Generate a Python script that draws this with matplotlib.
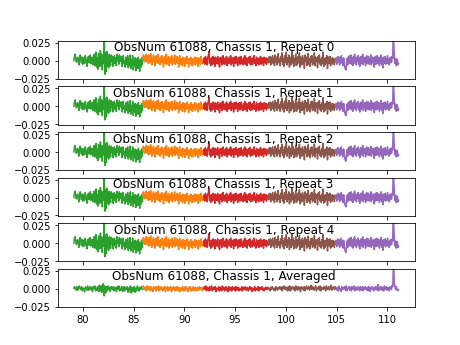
import numpy as np
import matplotlib
matplotlib.use("Agg")
import matplotlib.pyplot as plt

obsnum = 61088
chassis = 1
n_repeats = 5

# frequency ranges of the five subbands
band_edges = [(79.1, 85.9), (85.9, 91.9), (91.9, 98.2), (98.2, 104.9), (104.9, 111.1)]
band_colors = ["tab:green", "tab:orange", "tab:red", "tab:brown", "tab:purple"]

# single repeat residuals (units of 1e-3)
rep_green = [0, 6, 9, 3, -2, 2, 5, -1, -6, 4, 8, 2, -3, 5, -5, 1, 4, -4, 7, 3, -2, -8, 3, 6, -3, 2, 8, -4, -2, 5,
             -6, 3, 9, -7, 6, 12, -9, 4, -12, 10, 2, -8, 14, -6, 9, -13, 7, -4, 33, -19, 11, -15, 13, -8, 6, -10, 9, 4, -7, 8,
             -1, 6, -8, 2, 7, -4, 4, -7, 9, 0, 5, -5, 8, -1, 2, 6, -8, 3, 7, -4, 0, -9, 5, 3, -6, 7, -10, 2, -7, 8,
             -11, 1, -5, 7, -13, 2, -8, 4, -14, -3, 3, -11, 5, -4, -15, 1, -9, 4, -6, 0]
rep_orange = [4, 8, 0, 6, -2, 3, 9, -1, 7, 2, -4, 8, 3, -3, 10, 2, -6, 4, -1, 8, -2, 5, -7, 3, 7, -3, 1, 9, -4, 4,
              1, -6, 5, -3, 7, -2, 3, -9, 2, 6, -4, 1, 9, -5, 2, -3, 6, -7, 3, -1, 5, -4, 7, -6, 1, 3, -3, 8, -5, 2,
              -2, 6, -4, 4, -9, 2, 7, -2, -5, 3, 0, -7, 5, -3, 3, -8, 4, -1, -4, 6, -3, 1, -9, 3, 0, -4, 5, -6, 1, -7,
              3, -1, -3, 5, -6, 0, 4, -4, 2, -8, 4, -2, 3, -5, 6, -3, 1, -4, 2, -1]
rep_red = [-3, 4, -5, 6, -2, 3, -6, 5, 7, 13, -4, 3, -7, 4, 1, -5, 6, -3, 4, -8, 5, 0, -4, 3, 6, -5, 2, -9, 4, -2,
           5, -6, 3, 7, -4, 2, -5, 4, -3, 6, -7, 3, 0, -4, 5, -2, 7, -6, 3, -3, 4, -8, 5, 1, -4, 6, -3, 3, -7, 4,
           -2, 5, -5, 3, 6, -4, 1, -6, 4, -3, 7, -5, 2, 4, -7, 3, -2, 5, -4, 6, -6, 2, 3, -5, 4, -3, 7, -4, 1, -7,
           5, 2, -4, 3, -6, 4, -2, 6, -5, 3, -3, 4, -7, 5, 1, -3, 4, -5, 3, 0]
rep_brown = [2, -3, 5, -2, 6, -6, 4, 1, 7, -4, 3, -7, 8, -2, 5, -6, 4, 10, -3, 2, -7, 6, -1, 11, -5, 3, -8, 7, 1, -3,
             12, -6, 4, -2, 8, -9, 5, 2, -6, 13, -3, 7, -8, 3, -1, 9, -7, 4, -5, 6, -2, 11, -9, 5, 1, -6, 7, -4, 3, -11,
             8, -1, 5, -7, 4, 10, -5, 2, -8, 6, -2, 7, -6, 3, -4, 11, -7, 5, -1, 4, -10, 6, -2, 8, -5, 2, -7, 5, -4, 12,
             -8, 3, -6, 4, -3, 7, -11, 2, 5, -4, 6, -7, 3, -5, 4, -2, 3, -6, 2, -1]
rep_purple = [-1, 4, -5, 3, 6, -2, 2, -6, 5, -4, 7, -1, 3, -7, 4, -3, -9, -12, -13, -5, 3, -6, 5, -2, 7, -4, 2, 8, -5, 4,
              -7, 6, -2, 9, -4, 3, -6, 5, -1, 7, -5, 4, -8, 3, 6, -4, 2, 9, -6, 4, -2, 5, -7, 3, 7, -4, -1, 6, -5, 3,
              -4, 8, -6, 2, 5, -3, 4, -9, 3, 6, -5, 2, 7, -4, -1, 5, -7, 4, -3, 8, -6, 3, -10, 5, -4, 2, 6, -5, 3, -3,
              7, -4, 2, -6, 4, -3, 5, -2, 6, 3, 45, 20, 5, -4, 3, -7, -5, 2, -6, -4]

# averaged residuals (units of 1e-3)
avg_green = [1, 3, 0, -2, 3, -2, 2, 4, 0, -1, 3, -3, 1, 0, -4, 3, 1, -2, 4, -2, 0, 3, -1, 2, -4, 3, 0, 4, -3, 1,
             -2, 3, -4, 5, -3, 4, -5, 6, 7, -10, 4, -6, 3, -3, 4, -1, 2, -4, 3, 0, -1, 3, -3, 2, 0, -4, 3, -1, 4, -3,
             1, -2, 3, -4, 0, 3, -3, 2, -1, 3, -5, 1, -3, 4, -6, 2, -4, -1, 3, -5, 1, -3, 4, 0, -3, 2, -1, 3, 0, -1]
avg_orange = [3, 4, -1, 2, 0, -3, 4, -1, 2, 3, -3, 0, 3, -2, 1, -4, 3, 0, 2, -3, 3, -1, 0, 4, -3, 2, -1, 3, 0, -3,
              2, -1, 3, -4, 1, 0, 3, -3, 2, -2, 0, 3, -4, 1, -1, 3, 0, -3, 2, -2, 3, -3, 0, 2, -4, 1, 0, -2, 3, -3,
              0, 2, -3, 3, -1, 0, -4, 2, -2, 3, 0, -3, 1, -2, 3, -3, 0, 2, -1, -3, 2, 0, -2, 3, -1, 0, 2, -3, 1, 0]
avg_red = [0, 3, -1, 4, -3, 2, 0, -3, 3, -2, 1, 4, -3, 0, 2, -1, 3, -4, 1, 0, -2, 3, -3, 2, 0, -3, 4, -1, 2, -3,
           0, 3, -2, 1, -4, 3, 0, -2, 2, -3, 3, 0, -1, 2, -3, 3, -2, 0, 2, -3, 1, 0, -2, 3, -3, 0, 2, -1, 3, -2,
           0, 2, -3, 0, 3, -1, 2, -4, 1, 0, -2, 3, -3, 1, 0, -2, 3, -3, 2, -1, 0, 3, -2, 1, -3, 0, 2, -1, 2, 0]
avg_brown = [-1, 2, 0, -3, 2, -1, 3, 0, -2, 1, -3, 3, 0, -2, 2, 0, 3, -1, 2, -3, 3, 0, 4, -1, 2, 0, -3, 3, -2, 4,
             -3, 2, 0, 3, -1, 2, -3, 4, 0, -2, 3, -1, 2, -4, 3, 0, 2, -2, 3, -3, 1, 4, -1, 0, 3, -2, 2, 5, -1, 3,
             0, -2, 2, 4, -3, 1, 0, 3, -2, 4, -3, 2, 0, -1, 3, 1, -3, 4, -1, 0, 3, -2, 1, 5, -2, 2, 0, 3, -1, 1]
avg_purple = [3, 0, -2, 2, -3, 4, -1, 0, -4, 3, -1, 2, 0, 3, -2, 4, -3, 1, 0, 3, -2, 2, -3, 3, 0, -1, 4, -3, 2, 0,
              -2, 3, -1, 2, -3, 3, 0, -2, 3, -3, 2, -1, 3, 0, -2, 2, -3, 3, 0, -4, 2, -1, 3, 0, -3, 2, -1, 3, 1, -2,
              6, -3, 2, -1, 3, 0, -2, 2, -3, 4, 0, -1, 3, -2, 2, 0, -3, 3, 1, -1, 5, 3, 45, 9, 2, -1, 3, -2, -3, -1]

repeat_bands = [rep_green, rep_orange, rep_red, rep_brown, rep_purple]
avg_bands = [avg_green, avg_orange, avg_red, avg_brown, avg_purple]


def plot_bands(ax, bands, label):
    for (lo, hi), vals, col in zip(band_edges, bands, band_colors):
        freq = np.linspace(lo, hi, len(vals))
        ax.plot(freq, np.array(vals) * 1e-3, color=col)
    ax.text(0.465, 1.0, label, transform=ax.transAxes, ha="center", va="top", fontsize=12)
    ax.set_ylim(-0.0255, 0.0277)
    ax.set_yticks([-0.025, 0.0, 0.025])


fig, axes = plt.subplots(n_repeats + 1, 1, sharex=True, figsize=(6.4, 4.8), dpi=72)
for i in range(n_repeats):
    plot_bands(axes[i], repeat_bands, f"ObsNum {obsnum}, Chassis {chassis}, Repeat {i}")
plot_bands(axes[-1], avg_bands, f"ObsNum {obsnum}, Chassis {chassis}, Averaged")

plt.savefig("out.png")
